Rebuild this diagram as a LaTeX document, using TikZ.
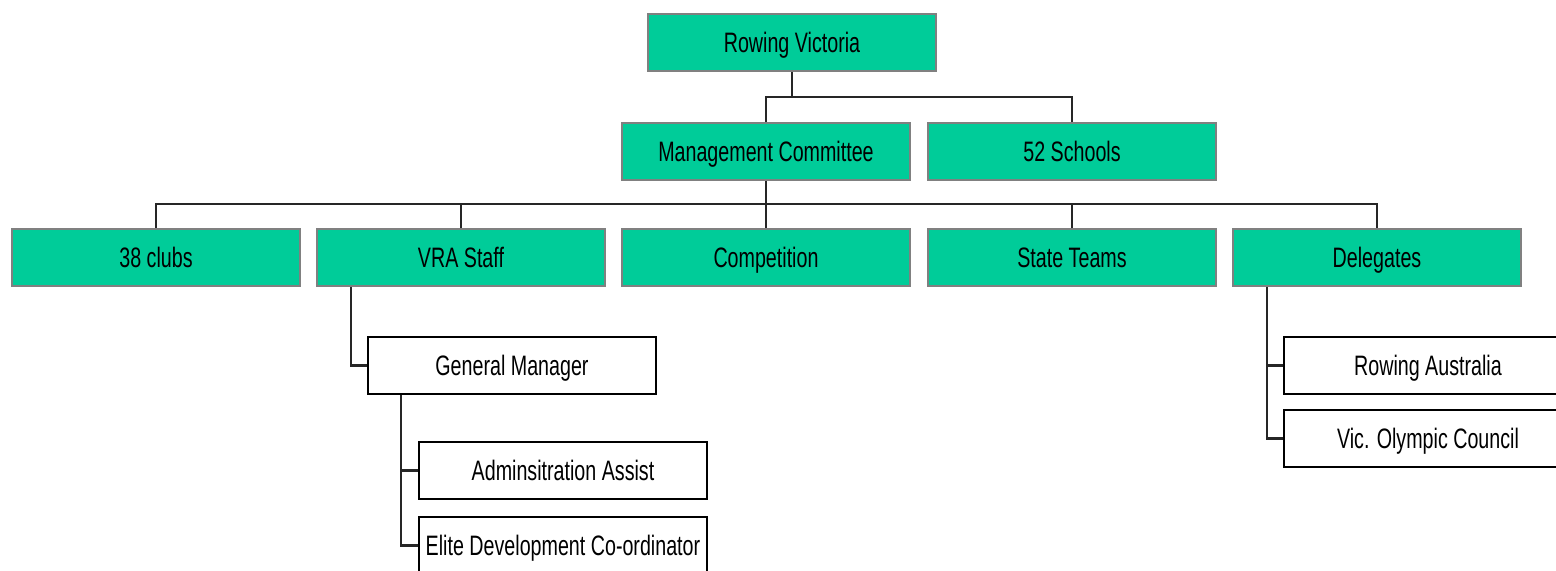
\documentclass[tikz,border=0pt]{standalone}
\usepackage{fontspec}
\setmainfont{Liberation Sans}[FakeStretch=0.7]
\usepackage{xcolor}
\usepackage{tikz}
\definecolor{Teal}{HTML}{00CC99}
\definecolor{Edge}{HTML}{808080}

\begin{document}
\begin{tikzpicture}[x=0.02cm,y=-0.02cm,
unit/.style={draw=Edge,fill=Teal,line width=1.1pt,minimum width=5.76cm,minimum height=1.14cm,inner sep=1pt,text height=11.5pt,text depth=0pt,font=\fontsize{16}{19}\selectfont},
role/.style={unit,draw=black,fill=white},
link/.style={draw=black!85,line width=1.2pt}]
\clip (0,0) rectangle (1556,571);
\node[unit] (rv) at (792,42.5) {Rowing Victoria};
\node[unit] (mc) at (766,151.5) {Management Committee};
\node[unit] (sch) at (1072,151.5) {52 Schools};
\node[unit] (clubs) at (156,257.5) {38 clubs};
\node[unit] (staff) at (461,257.5) {VRA Staff};
\node[unit] (comp) at (766,257.5) {Competition};
\node[unit] (teams) at (1072,257.5) {State Teams};
\node[unit] (dele) at (1377,257.5) {Delegates};
\node[role] (gm) at (512,365.5) {General Manager};
\node[role] (adm) at (563,470.5) {Adminsitration Assist};
\node[role] (edc) at (563,545.5) {Elite Development Co-ordinator};
\node[role] (ra) at (1428,365.5) {Rowing Australia};
\node[role] (voc) at (1428,438.5) {Vic. Olympic Council};
\coordinate (j1) at (792,97);
\coordinate (j2) at (766,204);
\draw[link] (rv.south)--(j1);
\draw[link] (mc.north)|-(j1)-|(sch.north);
\draw[link] (mc.south)--(j2);
\draw[link] (clubs.north)|-(j2)-|(dele.north);
\foreach \n in {staff,comp,teams}
  \draw[link] (\n.north)--(\n.north|-j2);
\draw[link] ([xshift=0.7cm]staff.south west)|-(gm.west);
\draw[link] ([xshift=0.68cm]gm.south west)|-(adm.west);
\draw[link] ([xshift=0.68cm]gm.south west)|-(edc.west);
\draw[link] ([xshift=0.7cm]dele.south west)|-(ra.west);
\draw[link] ([xshift=0.7cm]dele.south west)|-(voc.west);
\end{tikzpicture}
\end{document}
